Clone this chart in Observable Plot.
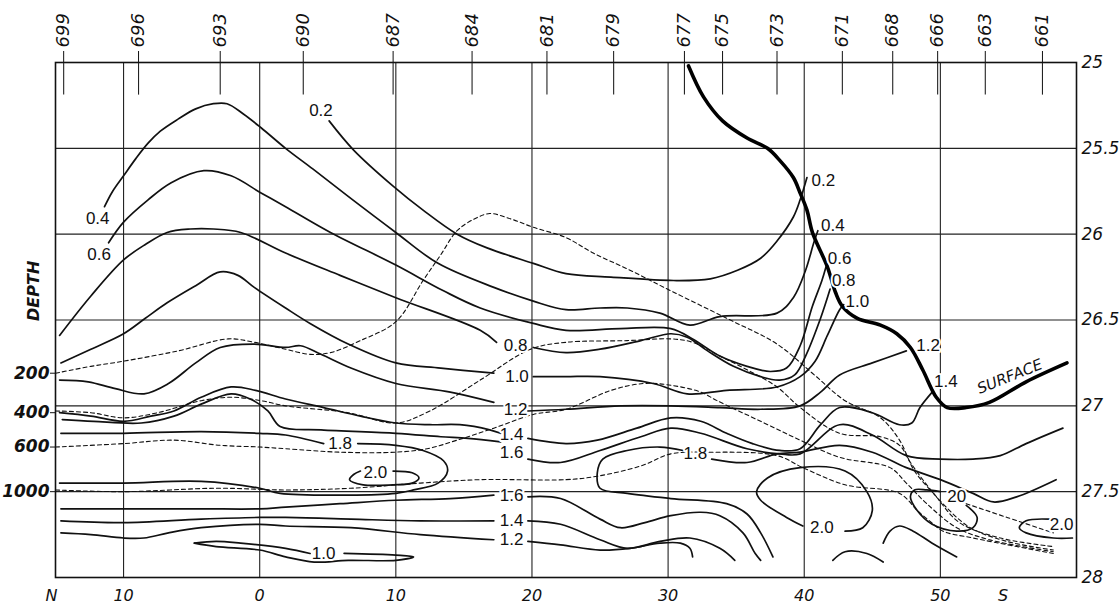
<!DOCTYPE html>
<html><head><meta charset="utf-8">
<script src="https://cdn.jsdelivr.net/npm/d3@7"></script>
<script src="https://cdn.jsdelivr.net/npm/@observablehq/plot@0.6"></script>
<style>
body{margin:0;background:#fff}
svg{display:block}
g[aria-label$="tick label"] text{font-style:italic}
</style>
</head><body><div id="chart"></div>
<script>
// ---- axes / stations ----
const stations = ["699","696","693","690","687","684","681","679","677","675","673","671","668","666","663","661"];
const stationLat = [-14.4,-8.9,-2.9,3.2,9.8,15.6,21.1,26.0,31.2,34.0,38.0,42.8,46.5,49.8,53.3,57.5];
const latTicks = [-15.3,-10,0,10,20,30,40,50,54.6];
const latLabels = ["N","10","0","10","20","30","40","50","S"];
const sigmaTicks = [25,25.5,26,26.5,27,27.5,28];
const sigmaLabels = ["25","25.5","26","26.5","27","27.5","28"];
const depthLabels = ["200","400","600","1000"];
const depthSigma = [26.81,27.04,27.24,27.50];
const gridLat = [-10,0,10,20,30,40,50];
const gridSigma = [25.5,26,26.5,27,27.5];

// ---- solid contours [lat, sigma-t] ----
const c02 = [[5.1,25.34],[6.9,25.51],[9.8,25.72],[12.0,25.86],[14.5,26.00],[16.7,26.08],[20.1,26.17],[22.5,26.23],[25.8,26.25],[30.4,26.27],[33.1,26.26],[35.1,26.21],[36.8,26.14],[38.0,26.04],[39.2,25.90],[39.7,25.80],[40.2,25.67]];
const c04 = [[-11.4,25.84],[-10.8,25.75],[-10.0,25.66],[-9.1,25.56],[-8.2,25.47],[-7.3,25.40],[-6.0,25.33],[-4.7,25.27],[-3.4,25.24],[-2.4,25.24],[-1.2,25.30],[0.1,25.38],[1.9,25.50],[3.9,25.62],[6.5,25.78],[10.0,25.99],[13.1,26.17],[17.2,26.31],[20.1,26.39],[22.5,26.44],[25.0,26.43],[27.0,26.43],[29.4,26.46],[31.6,26.53],[33.8,26.48],[38.0,26.46],[39.2,26.37],[40.1,26.21],[40.7,26.05],[41.0,25.98]];
const c06 = [[-11.1,26.05],[-10.0,25.93],[-8.2,25.80],[-6.5,25.70],[-4.1,25.63],[-2.1,25.66],[0.1,25.76],[1.9,25.84],[5.2,25.99],[10.0,26.18],[13.5,26.33],[16.2,26.43],[20.1,26.52],[22.5,26.56],[26.5,26.55],[30.2,26.55],[31.8,26.61],[33.8,26.71],[35.8,26.77],[37.5,26.80],[38.7,26.78],[39.7,26.65],[40.6,26.42],[41.3,26.27],[41.6,26.19]];
const c08a = [[-14.7,26.59],[-12.4,26.36],[-10.0,26.15],[-8.4,26.06],[-6.8,25.99],[-5.1,25.97],[-3.4,25.97],[-1.4,25.99],[1.9,26.11],[5.9,26.24],[10.0,26.37],[16.2,26.56],[17.4,26.63]];
const c08b = [[20.1,26.66],[22.5,26.69],[25.0,26.67],[28.0,26.62],[30.2,26.58],[31.4,26.60],[32.9,26.68],[34.8,26.77],[36.8,26.83],[38.2,26.85],[39.3,26.82],[40.1,26.71],[41.2,26.49],[41.9,26.32]];
const c10a = [[-14.6,26.75],[-12.4,26.67],[-10.0,26.58],[-8.4,26.49],[-6.8,26.40],[-4.7,26.30],[-2.9,26.22],[-1.6,26.24],[-0.4,26.31],[1.9,26.43],[3.7,26.52],[6.5,26.64],[10.0,26.75],[13.3,26.78],[17.2,26.81]];
const c10b = [[20.1,26.83],[22.5,26.83],[25.0,26.83],[28.9,26.87],[31.4,26.93],[34.3,26.91],[38.0,26.89],[39.7,26.83],[40.8,26.74],[41.7,26.59],[42.6,26.44],[42.9,26.41]];
const c12a = [[-14.7,26.85],[-12.6,26.86],[-10.6,26.90],[-8.5,26.93],[-6.7,26.87],[-4.7,26.75],[-2.9,26.66],[-0.4,26.64],[1.9,26.66],[3.0,26.65],[4.5,26.70],[6.7,26.78],[10.0,26.87],[14.0,26.92],[17.2,26.98]];
const c12b = [[19.7,27.03],[22.5,27.02],[26.5,27.00],[30.2,27.00],[33.8,27.01],[36.8,27.02],[39.7,27.00],[41.2,26.92],[42.6,26.82],[45.0,26.75],[47.5,26.68]];
const c14a = [[-14.7,27.04],[-12.4,27.06],[-10.0,27.09],[-8.0,27.06],[-6.3,27.03],[-4.3,26.95],[-2.1,26.89],[-0.3,26.91],[1.9,26.96],[4.7,27.01],[7.4,27.06],[10.0,27.10],[12.5,27.11],[14.7,27.11],[16.9,27.14],[17.7,27.16]];
const c14b = [[19.7,27.19],[22.5,27.22],[24.8,27.20],[27.7,27.13],[30.2,27.07],[32.4,27.09],[34.3,27.16],[36.2,27.22],[38.2,27.26],[39.7,27.25],[41.2,27.11],[42.6,27.01],[45.0,27.04],[47.0,27.11],[47.9,27.10],[48.5,27.01],[49.4,26.92]];
const c16a = [[-14.5,27.08],[-12.2,27.09],[-8.7,27.10],[-6.3,27.06],[-4.3,26.99],[-2.1,26.93],[-0.7,26.96],[0.6,27.03],[1.5,27.12],[4.5,27.14],[10.0,27.16],[13.3,27.18],[15.3,27.19],[17.7,27.21]];
const c16b = [[19.7,27.31],[22.1,27.33],[25.0,27.26],[28.0,27.18],[30.2,27.13],[32.4,27.16],[35.8,27.25],[38.2,27.28],[39.7,27.28],[42.6,27.11],[45.0,27.17],[47.5,27.29],[50.0,27.31],[52.4,27.31],[54.4,27.29],[56.3,27.22],[59.0,27.13]];
const c18a = [[-14.6,27.16],[-10.0,27.16],[-4.3,27.15],[0,27.16],[1.9,27.17],[4.7,27.22]];
const c18b = [[7.2,27.22],[10.0,27.23],[12.0,27.26],[13.5,27.32],[13.8,27.38],[13.1,27.45],[11.3,27.49],[10.0,27.51],[6.5,27.52],[1.5,27.51],[0,27.48],[-4.3,27.44],[-10.0,27.45],[-14.7,27.45]];
const c18c = [[31.1,27.26],[29.4,27.24],[27.0,27.26],[25.2,27.31],[24.8,27.39],[25.0,27.48],[27.0,27.51],[30.2,27.54],[34.3,27.57],[35.8,27.63],[36.8,27.74],[37.7,27.88]];
const c18d = [[33.2,27.31],[35.8,27.33],[38.0,27.28],[39.7,27.27],[42.6,27.23],[45.0,27.27],[47.5,27.36],[50.0,27.43],[52.4,27.51],[53.9,27.56],[55.6,27.53],[58.5,27.43]];
const c20a = [[9.8,27.38],[11.2,27.39],[11.7,27.42],[11.2,27.45],[9.8,27.46],[7.6,27.46],[6.6,27.43],[6.9,27.40],[7.4,27.38]];
const c20b = [[43.0,27.73],[44.3,27.71],[45.0,27.61],[44.6,27.50],[43.0,27.38],[39.7,27.36],[37.3,27.42],[36.5,27.50],[36.8,27.55],[38.7,27.65],[39.9,27.70]];
const c20c = [[51.9,27.58],[52.7,27.65],[52.4,27.71],[51.2,27.73],[49.4,27.69],[48.3,27.61],[47.8,27.53],[48.1,27.49],[49.0,27.49],[50.0,27.50]];
const c20d = [[59.7,27.77],[58.3,27.77],[56.3,27.74],[55.8,27.71],[56.3,27.67],[58.0,27.66]];
const c16c = [[-14.6,27.60],[-10.0,27.60],[-4.3,27.60],[0,27.60],[1.9,27.59],[5.9,27.57],[10.0,27.55],[14.0,27.54],[17.2,27.52]];
const c16d = [[19.7,27.53],[22.1,27.54],[25.0,27.66],[26.5,27.71],[28.3,27.68],[30.2,27.64],[32.4,27.62],[33.8,27.64],[35.5,27.74],[36.4,27.86],[36.8,27.90]];
const c14c = [[-14.6,27.67],[-10.0,27.68],[-4.3,27.66],[0,27.65],[1.9,27.65],[6.7,27.66],[11.8,27.67],[17.2,27.67]];
const c14d = [[19.7,27.67],[22.1,27.69],[25.0,27.78],[27.0,27.83],[29.4,27.79],[31.6,27.77],[33.8,27.83],[34.9,27.90]];
const c12c = [[-14.6,27.74],[-12.4,27.75],[-10.0,27.77],[-8.5,27.77],[-6.7,27.74],[-4.3,27.71],[0,27.69],[1.9,27.70],[6.7,27.71],[11.8,27.75],[17.2,27.78]];
const c12d = [[19.7,27.79],[22.1,27.81],[25.0,27.84],[27.2,27.83],[29.4,27.80],[30.9,27.80],[31.6,27.83],[31.8,27.88]];
const c10c = [[-4.8,27.80],[-3.2,27.79],[-1.4,27.80],[1.9,27.83],[3.7,27.86]];
const c10d = [[6.2,27.86],[10.0,27.87],[11.3,27.88],[10.0,27.90],[6.5,27.90],[4.0,27.91],[1.9,27.88],[0,27.84],[-3.2,27.82],[-4.8,27.80]];
const hook1 = [[45.8,27.80],[46.3,27.73],[47.0,27.70],[48.0,27.73],[49.4,27.80],[51.2,27.88]];
const hook2 = [[42.1,27.90],[43.0,27.85],[44.6,27.86],[45.8,27.91]];

// ---- sea surface (heavy line) ----
const surface = [[31.5,25.02],[32.6,25.20],[34.0,25.34],[35.8,25.44],[37.3,25.50],[38.2,25.57],[39.2,25.67],[39.7,25.76],[40.2,25.86],[40.6,25.99],[41.7,26.19],[42.3,26.34],[42.8,26.42],[43.9,26.49],[45.6,26.53],[46.8,26.58],[47.8,26.66],[48.7,26.79],[49.7,26.95],[50.5,27.01],[51.9,27.01],[53.6,26.98],[56.3,26.86],[59.3,26.75]];

// ---- depth lines (dashed) ----
const d200 = [[-15.0,26.81],[-12.4,26.77],[-10.0,26.74],[-6.0,26.68],[-2.3,26.61],[-0.4,26.63],[1.9,26.67],[3.7,26.70],[5.2,26.69],[7.4,26.62],[10.0,26.51],[12.0,26.27],[13.3,26.12],[14.5,25.98],[15.8,25.91],[16.9,25.88],[18.4,25.91],[20.1,25.96],[22.5,26.02],[24.5,26.11],[27.2,26.21],[30.2,26.33],[34.3,26.49],[38.0,26.64],[40.6,26.81],[43.0,26.97],[45.6,27.07],[47.0,27.20],[48.1,27.38],[49.6,27.52],[51.4,27.68],[54.4,27.77],[58.3,27.82]];
const d400 = [[-15.0,27.03],[-12.4,27.04],[-10.0,27.07],[-7.5,27.04],[-4.3,26.97],[-2.1,26.95],[0.1,26.97],[1.9,27.00],[6.5,27.04],[10.0,27.10],[12.5,27.03],[16.2,26.85],[19.9,26.67],[22.5,26.63],[27.0,26.62],[30.2,26.61],[31.8,26.63],[33.8,26.71],[35.8,26.79],[38.0,26.89],[39.7,27.01],[42.6,27.16],[45.6,27.18],[47.0,27.23],[47.8,27.33],[49.0,27.46],[50.3,27.58],[52.2,27.71],[54.9,27.79],[58.3,27.84]];
const d600 = [[-15.0,27.24],[-10.0,27.22],[-6.3,27.20],[-2.9,27.23],[0,27.24],[1.9,27.25],[5.9,27.27],[10.0,27.27],[12.3,27.25],[14.5,27.20],[17.2,27.13],[20.1,27.05],[22.5,27.02],[25.8,26.91],[28.2,26.87],[30.2,26.88],[32.4,26.92],[33.6,26.97],[36.8,27.09],[39.7,27.20],[42.6,27.30],[46.3,27.36],[47.5,27.45],[49.0,27.57],[51.2,27.71],[53.6,27.78],[58.3,27.85]];
const d1000 = [[-15.0,27.49],[-10.0,27.50],[-3.1,27.48],[1.9,27.49],[6.7,27.48],[11.8,27.45],[16.2,27.43],[22.5,27.43],[24.8,27.41],[28.0,27.35],[30.2,27.28],[33.1,27.27],[38.0,27.29],[39.9,27.36],[43.0,27.46],[47.0,27.51],[48.3,27.61],[49.2,27.67],[50.2,27.73],[52.4,27.77],[58.3,27.86]];
const dExtra = [[51.9,27.57],[54.9,27.65],[58.3,27.74]];

// ---- contour labels ----
const labelText = ["0.2","0.2","0.4","0.4","0.6","0.6","0.8","0.8","1.0","1.0","1.2","1.2","1.4","1.4","1.6","1.8","2.0","1.6","1.4","1.2","1.0","1.8","2.0","20","2.0"];
const labelLat  = [4.5,41.4,-11.9,42.1,-11.8,42.6,18.8,42.9,18.9,43.9,18.8,49.1,18.5,50.4,18.5,5.9,8.5,18.5,18.5,18.5,4.7,32.0,41.3,51.2,58.9];
const labelSig  = [25.28,25.69,25.91,25.95,26.12,26.14,26.65,26.27,26.83,26.39,27.02,26.65,27.17,26.86,27.27,27.22,27.39,27.52,27.67,27.78,27.86,27.28,27.71,27.53,27.69];

// ---- build tables ----
const rows = (pieces, tag) => pieces.flatMap((p, i) => p.map(([lat, sig]) => ({lat, sig, id: tag + i})));
const solidRows = rows([c02,c04,c06,c08a,c08b,c10a,c10b,c12a,c12b,c14a,c14b,c16a,c16b,c18a,c18b,c18c,c18d,c20a,c20b,c20c,c20d,c16c,c16d,c14c,c14d,c12c,c12d,c10c,c10d,hook1,hook2], "s");
const dashRows = rows([d200,d400,d600,d1000,dExtra], "d");
const surfRows = rows([surface], "f");
const labels = labelText.map((t, i) => ({t, lat: labelLat[i], sig: labelSig[i]}));
const stationMap = new Map(stationLat.map((d, i) => [d, stations[i]]));
const latMap = new Map(latTicks.map((d, i) => [d, latLabels[i]]));
const sigMap = new Map(sigmaTicks.map((d, i) => [d, sigmaLabels[i]]));
const depthMap = new Map(depthSigma.map((d, i) => [d, depthLabels[i]]));

const chart = Plot.plot({
  width: 1120, height: 612,
  marginLeft: 55, marginRight: 44, marginTop: 62, marginBottom: 35,
  x: {domain: [-15, 60]},
  y: {domain: [25, 28], reverse: true},
  style: {fontFamily: "DejaVu Sans", background: "#fff", color: "#111"},
  marks: [
    Plot.ruleX(gridLat, {stroke: "#222", strokeWidth: 1.1}),
    Plot.ruleY(gridSigma, {stroke: "#222", strokeWidth: 1.1}),
    Plot.frame({stroke: "#111", strokeWidth: 1.6}),
    Plot.ruleX(stationLat, {y1: 25, y2: 25.19, stroke: "#222", strokeWidth: 1.1}),
    Plot.axisX({anchor: "top", ticks: stationLat, tickFormat: d => stationMap.get(d), tickRotate: -90, tickSize: 12, tickPadding: 3, fontSize: 18, fontStyle: "italic", label: null}),
    Plot.axisX({anchor: "bottom", ticks: latTicks, tickFormat: d => latMap.get(d), tickSize: 0, tickPadding: 12, fontSize: 16, fontStyle: "italic", label: null}),
    Plot.axisY({anchor: "right", ticks: sigmaTicks, tickFormat: d => sigMap.get(d), tickSize: 0, tickPadding: 5, fontSize: 17, fontStyle: "italic", label: null}),
    Plot.axisY({anchor: "left", ticks: depthSigma, tickFormat: d => depthMap.get(d), tickSize: 5, tickPadding: 1, fontSize: 17, fontWeight: "bold", fontStyle: "italic", label: null}),
    Plot.text(["DEPTH"], {x: -15, y: 26.33, dx: -22, rotate: -90, text: d => d, fontSize: 16, fontWeight: "bold", fontStyle: "italic", letterSpacing: 4}),
    Plot.line(dashRows, {x: "lat", y: "sig", z: "id", curve: "catmull-rom", stroke: "#111", strokeWidth: 1.1, strokeDasharray: "4,3"}),
    Plot.line(solidRows, {x: "lat", y: "sig", z: "id", curve: "catmull-rom", stroke: "#111", strokeWidth: 1.7}),
    Plot.line(surfRows, {x: "lat", y: "sig", z: "id", curve: "catmull-rom", stroke: "#000", strokeWidth: 3.6}),
    Plot.text(labels, {x: "lat", y: "sig", text: "t", fontSize: 17, fontFamily: "Liberation Sans", fill: "#111", stroke: "white", strokeWidth: 4}),
    Plot.text(["SURFACE"], {x: 55.1, y: 26.83, text: d => d, rotate: -22, fontSize: 15, fontStyle: "italic", letterSpacing: 1.5})
  ]
});
document.getElementById("chart").append(chart);
</script></body></html>
